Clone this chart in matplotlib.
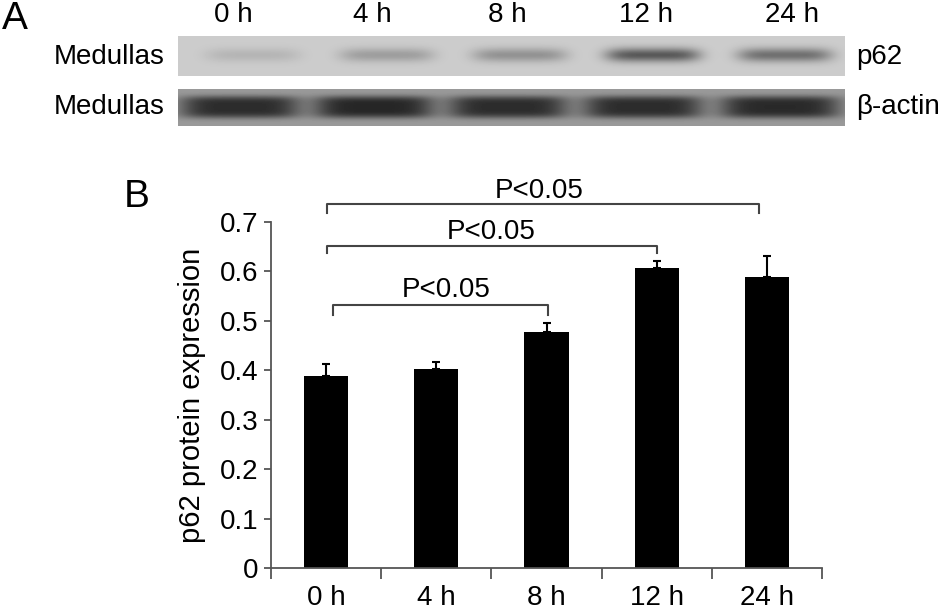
import numpy as np
import matplotlib
matplotlib.use('Agg')
import matplotlib.pyplot as plt

plt.rcParams['font.family'] = ['Liberation Sans', 'DejaVu Sans']

# data
timepoints = ['0 h', '4 h', '8 h', '12 h', '24 h']
p62_mean = [0.388, 0.403, 0.478, 0.606, 0.589]
p62_err = [0.024, 0.014, 0.018, 0.016, 0.042]
comparisons = [(0, 2), (0, 3), (0, 4)]
comp_labels = ['P<0.05', 'P<0.05', 'P<0.05']

# relative band darkness in the blot (panel A)
p62_band = [0.2, 0.4, 0.5, 1.0, 0.8]
actin_band = [0.95, 1.0, 0.95, 0.95, 0.97]

fig = plt.figure(figsize=(9.45, 6.09), dpi=100)

# ---- panel A: blot, drawn on a pixel-coordinate overlay axes
pa = fig.add_axes([0, 0, 1, 1])
pa.set_xlim(0, 945)
pa.set_ylim(609, 0)
pa.axis('off')
pa.patch.set_visible(False)


def strip(x0, x1, y0, y1, centers, dens, bg, depth, hw, yc, hh, py):
    xs = np.arange(x0, x1) + 0.5
    ys = np.arange(y0, y1) + 0.5
    X, Y = np.meshgrid(xs, ys)
    img = np.full(X.shape, bg)
    for c, d in zip(centers, dens):
        prof = np.exp(-np.abs((X - c) / hw) ** 5) * np.exp(-np.abs((Y - yc) / hh) ** py)
        img -= depth * d * prof
    pa.imshow(img, cmap='gray', vmin=0, vmax=1, extent=(x0, x1, y1, y0),
              aspect='auto', interpolation='bilinear')


strip(178, 845, 36, 76, [253, 387, 520, 653, 785], p62_band,
      0.80, 0.45, 47, 55, 7, 2)
strip(178, 845, 89, 126, [240, 374, 508, 643, 780], actin_band,
      0.60, 0.45, 60, 107, 11, 4)

fs = 20
pa.text(2, 19, 'A', fontsize=28, va='center', ha='left')
for lx, lab in zip([233, 372, 507, 646, 792], timepoints):
    pa.text(lx, 15, lab, fontsize=fs, ha='center', va='center')
pa.text(165, 57, 'Medullas', fontsize=fs, ha='right', va='center')
pa.text(165, 107, 'Medullas', fontsize=fs, ha='right', va='center')
pa.text(856, 57, 'p62', fontsize=fs, ha='left', va='center')
pa.text(856, 107, '\u03b2-actin', fontsize=fs, ha='left', va='center')
pa.text(124, 197, 'B', fontsize=28, va='center', ha='left')

# ---- panel B: bar chart
ax = fig.add_axes([271 / 945, (609 - 568) / 609, 551 / 945, 346 / 609])
x = np.arange(len(timepoints))
ax.bar(x, p62_mean, width=0.4, color='black', zorder=2)
ax.errorbar(x, p62_mean, yerr=[np.zeros(len(x)), p62_err], fmt='none',
            ecolor='black', elinewidth=1.5, capsize=3, capthick=1.5, zorder=3)

ax.set_xlim(-0.5, 4.5)
ax.set_ylim(0, 0.7)
ax.set_yticks(np.arange(0, 0.71, 0.1))
ax.set_yticklabels(['0'] + ['%.1f' % v for v in np.arange(0.1, 0.71, 0.1)])
ax.set_xticks(np.arange(-0.5, 4.6, 1.0))
ax.set_xticklabels([])
ax.set_xticks(x, minor=True)
ax.set_xticklabels(timepoints, minor=True)
ax.tick_params(axis='x', which='major', length=8, width=1.3, color='#555555')
ax.tick_params(axis='x', which='minor', length=0, pad=12, labelsize=fs)
ax.tick_params(axis='y', length=5, width=1.3, color='#555555', pad=4, labelsize=fs)
for s in ['top', 'right']:
    ax.spines[s].set_visible(False)
for s in ['left', 'bottom']:
    ax.spines[s].set_color('#555555')
    ax.spines[s].set_linewidth(1.3)
ax.set_ylabel('p62 protein expression', fontsize=21, labelpad=10)

# significance brackets
br_y = [0.532, 0.652, 0.736]
br_tip = [0.020, 0.014, 0.018]
br_x = [(0.06, 2.01), (0.01, 3.0), (0.01, 3.93)]
txt_pos = [(1.09, 0.563), (1.5, 0.68), (1.93, 0.763)]
for (a, b), yb, t, (tx, ty), lab in zip(br_x, br_y, br_tip, txt_pos, comp_labels):
    ax.plot([a, a, b, b], [yb - t, yb, yb, yb - t], color='#444444', lw=1.5,
            clip_on=False, zorder=4)
    ax.text(tx, ty, lab, fontsize=fs, ha='center', va='center', clip_on=False)

fig.savefig('out.png', dpi=100)
